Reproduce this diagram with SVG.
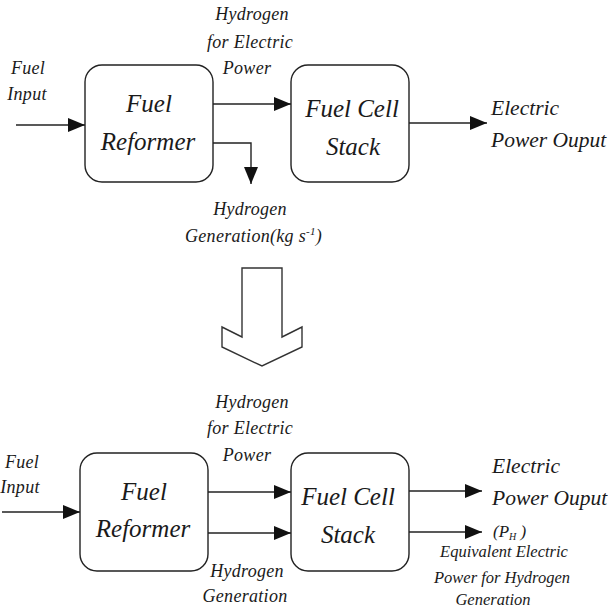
<svg xmlns="http://www.w3.org/2000/svg" width="608" height="613" viewBox="0 0 608 613">
<defs>
<marker id="ah" markerUnits="userSpaceOnUse" markerWidth="18" markerHeight="14" refX="17" refY="7" orient="auto">
<path d="M0,0 L17,7 L0,14 Z" fill="#111"/>
</marker>
</defs>
<rect width="608" height="613" fill="#fff"/>
<g id="connectors" fill="none" stroke="#222" stroke-width="1.4" marker-end="url(#ah)">
<line x1="16" y1="125" x2="85" y2="125"/>
<line x1="213" y1="104" x2="291" y2="104"/>
<polyline points="213,143 251,143 251,184"/>
<line x1="409" y1="123" x2="487" y2="123"/>
<line x1="2" y1="512" x2="80" y2="512"/>
<line x1="208" y1="492" x2="291" y2="492"/>
<line x1="208" y1="533" x2="291" y2="533"/>
<line x1="409" y1="491" x2="482" y2="491"/>
<line x1="409" y1="532" x2="482" y2="532"/>
</g>
<g id="reformer1">
<rect x="85" y="65" width="128" height="117" rx="17" fill="#fff" stroke="#222" stroke-width="1.4"/>
<text font-family="Liberation Serif" font-style="italic" font-size="25" text-anchor="middle" fill="#1a1a1a" x="149" y="112">Fuel</text>
<text font-family="Liberation Serif" font-style="italic" font-size="25" text-anchor="middle" fill="#1a1a1a" x="148" y="150">Reformer</text>
</g>
<g id="stack1">
<rect x="291" y="65" width="118" height="117" rx="17" fill="#fff" stroke="#222" stroke-width="1.4"/>
<text font-family="Liberation Serif" font-style="italic" font-size="25" text-anchor="middle" fill="#1a1a1a" x="352" y="117">Fuel Cell</text>
<text font-family="Liberation Serif" font-style="italic" font-size="25" text-anchor="middle" fill="#1a1a1a" x="353" y="155">Stack</text>
</g>
<g id="labels1">
<text font-family="Liberation Serif" font-style="italic" font-size="18" text-anchor="middle" letter-spacing="0.3" fill="#1a1a1a" x="28" y="74">Fuel</text>
<text font-family="Liberation Serif" font-style="italic" font-size="18" text-anchor="middle" letter-spacing="0.3" fill="#1a1a1a" x="27" y="100">Input</text>
<text font-family="Liberation Serif" font-style="italic" font-size="18" text-anchor="middle" letter-spacing="0.3" fill="#1a1a1a" x="252" y="20">Hydrogen</text>
<text font-family="Liberation Serif" font-style="italic" font-size="18" text-anchor="middle" letter-spacing="0.3" fill="#1a1a1a" x="250" y="48">for Electric</text>
<text font-family="Liberation Serif" font-style="italic" font-size="18" text-anchor="middle" letter-spacing="0.3" fill="#1a1a1a" x="247" y="74">Power</text>
<text font-family="Liberation Serif" font-style="italic" font-size="18" text-anchor="middle" letter-spacing="0.3" fill="#1a1a1a" x="250" y="215">Hydrogen</text>
<text font-family="Liberation Serif" font-style="italic" font-size="18" letter-spacing="0.3" fill="#1a1a1a" x="185" y="242">Generation(kg s<tspan font-size="11" dy="-7">-1</tspan><tspan dy="7">)</tspan></text>
<text font-family="Liberation Serif" font-style="italic" font-size="21.5" fill="#1a1a1a" x="491" y="115">Electric</text>
<text font-family="Liberation Serif" font-style="italic" font-size="21.5" fill="#1a1a1a" x="491" y="147">Power Ouput</text>
</g>
<g id="bigarrow">
<polygon points="242,268 282,268 282,337 302,327 302,347 262,366 222,347 222,327 242,337" fill="#fff" stroke="#333" stroke-width="1.4"/>
</g>
<g id="reformer2">
<rect x="80" y="453" width="128" height="118" rx="17" fill="#fff" stroke="#222" stroke-width="1.4"/>
<text font-family="Liberation Serif" font-style="italic" font-size="25" text-anchor="middle" fill="#1a1a1a" x="144" y="500">Fuel</text>
<text font-family="Liberation Serif" font-style="italic" font-size="25" text-anchor="middle" fill="#1a1a1a" x="143" y="537">Reformer</text>
</g>
<g id="stack2">
<rect x="291" y="453" width="118" height="118" rx="17" fill="#fff" stroke="#222" stroke-width="1.4"/>
<text font-family="Liberation Serif" font-style="italic" font-size="25" text-anchor="middle" fill="#1a1a1a" x="348" y="505">Fuel Cell</text>
<text font-family="Liberation Serif" font-style="italic" font-size="25" text-anchor="middle" fill="#1a1a1a" x="348" y="543">Stack</text>
</g>
<g id="labels2">
<text font-family="Liberation Serif" font-style="italic" font-size="18" text-anchor="middle" letter-spacing="0.3" fill="#1a1a1a" x="22" y="468">Fuel</text>
<text font-family="Liberation Serif" font-style="italic" font-size="18" text-anchor="middle" letter-spacing="0.3" fill="#1a1a1a" x="20" y="493">Input</text>
<text font-family="Liberation Serif" font-style="italic" font-size="18" text-anchor="middle" letter-spacing="0.3" fill="#1a1a1a" x="252" y="408">Hydrogen</text>
<text font-family="Liberation Serif" font-style="italic" font-size="18" text-anchor="middle" letter-spacing="0.3" fill="#1a1a1a" x="250" y="434">for Electric</text>
<text font-family="Liberation Serif" font-style="italic" font-size="18" text-anchor="middle" letter-spacing="0.3" fill="#1a1a1a" x="247" y="461">Power</text>
<text font-family="Liberation Serif" font-style="italic" font-size="18" text-anchor="middle" letter-spacing="0.3" fill="#1a1a1a" x="247" y="577">Hydrogen</text>
<text font-family="Liberation Serif" font-style="italic" font-size="18" text-anchor="middle" letter-spacing="0.3" fill="#1a1a1a" x="245" y="602">Generation</text>
<text font-family="Liberation Serif" font-style="italic" font-size="21.5" fill="#1a1a1a" x="492" y="473">Electric</text>
<text font-family="Liberation Serif" font-style="italic" font-size="21.5" fill="#1a1a1a" x="492" y="505">Power Ouput</text>
<text font-family="Liberation Serif" font-style="italic" font-size="17" fill="#1a1a1a" x="493" y="537">(P<tspan font-size="10" dy="3">H</tspan><tspan dy="-3"> )</tspan></text>
<text font-family="Liberation Serif" font-style="italic" font-size="16.5" text-anchor="middle" fill="#1a1a1a" x="504" y="557">Equivalent Electric</text>
<text font-family="Liberation Serif" font-style="italic" font-size="16.5" text-anchor="middle" fill="#1a1a1a" x="502" y="583">Power  for Hydrogen</text>
<text font-family="Liberation Serif" font-style="italic" font-size="16.5" text-anchor="middle" fill="#1a1a1a" x="493" y="605">Generation</text>
</g>
</svg>
